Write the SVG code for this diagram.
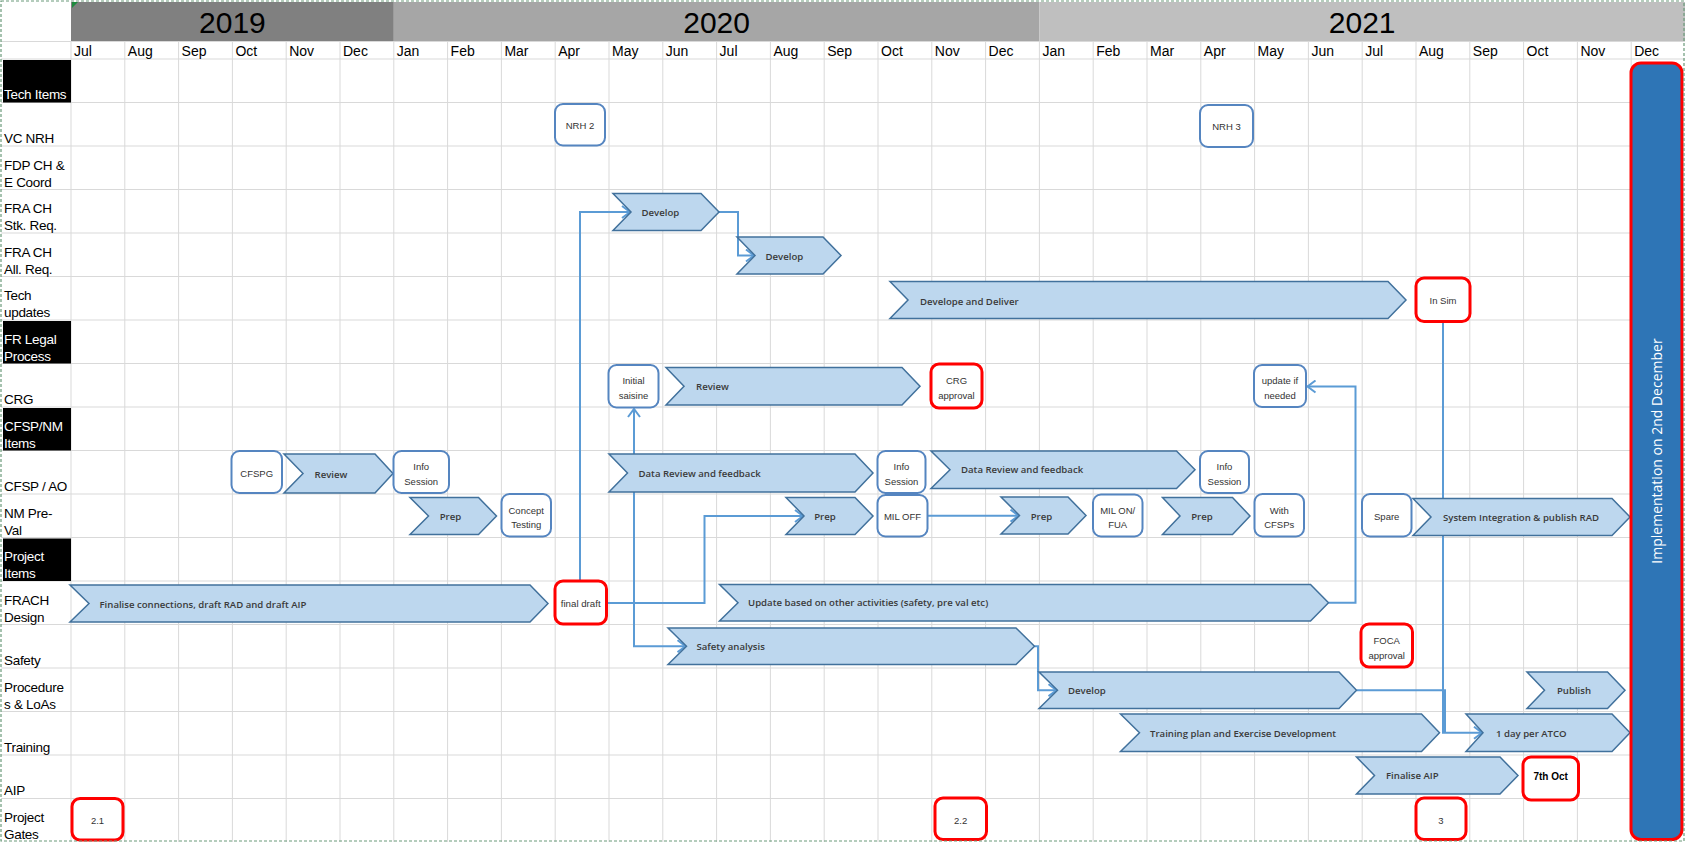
<svg xmlns="http://www.w3.org/2000/svg" width="1686" height="842" viewBox="0 0 1686 842">
<style>
.grid{stroke:#d9d9d9;stroke-width:1;fill:none}
.lbl{font-family:"Liberation Sans",Arial,sans-serif;font-size:13.5px;letter-spacing:-0.3px;fill:#000}
.lblw{font-family:"Liberation Sans",Arial,sans-serif;font-size:13.5px;letter-spacing:-0.3px;fill:#fff}
.mon{font-family:"Liberation Sans",Arial,sans-serif;font-size:14px;fill:#000}
.yr{font-family:"Liberation Sans",Arial,sans-serif;font-size:30px;fill:#000;text-anchor:middle}
.chev{fill:#bdd7ee;stroke:#41719c;stroke-width:1.5;stroke-linejoin:miter}
.ct{font-family:"Open Sans","Liberation Sans",sans-serif;font-size:9.6px;font-weight:600;fill:#3a3a3a}
.box{fill:#fff;stroke:#5585c0;stroke-width:2}
.rbox{fill:#fff;stroke:#ff0000;stroke-width:3}
.bt{font-family:"Liberation Sans",Arial,sans-serif;font-size:9.5px;fill:#333;text-anchor:middle}
.conn{fill:none;stroke:#5b9bd5;stroke-width:2}
</style>
<defs>
<marker id="arr" markerUnits="userSpaceOnUse" markerWidth="12" markerHeight="14" refX="9" refY="7" orient="auto">
<path d="M1,1 L9,7 L1,13" fill="none" stroke="#5b9bd5" stroke-width="2"/>
</marker>
</defs>
<rect x="0" y="0" width="1686" height="842" fill="#fff"/>
<g id="header">
<rect x="71" y="2" width="322.8" height="39" fill="#808080"/>
<rect x="393.8" y="2" width="645.6" height="39" fill="#a6a6a6"/>
<rect x="1039.4" y="2" width="645.6" height="39" fill="#bfbfbf"/>
<text class="yr" x="232.4" y="33">2019</text>
<text class="yr" x="716.6" y="33">2020</text>
<text class="yr" x="1362.2" y="33">2021</text>
<polygon points="72,2 78,2 72,8" fill="#1e8a3e"/>
</g>
<g id="grid">
<path class="grid" d="M71,41V842M124.8,41V842M178.6,41V842M232.4,41V842M286.2,41V842M340,41V842M393.8,41V842M447.6,41V842M501.4,41V842M555.2,41V842M609,41V842M662.8,41V842M716.6,41V842M770.4,41V842M824.2,41V842M878,41V842M931.8,41V842M985.6,41V842M1039.4,41V842M1093.2,41V842M1147,41V842M1200.8,41V842M1254.6,41V842M1308.4,41V842M1362.2,41V842M1416,41V842M1469.8,41V842M1523.6,41V842M1577.4,41V842M1631.2,41V842"/>
<path class="grid" d="M1,41.5H1685M1,59H1685M1,102.5H1685M1,146H1685M1,189.5H1685M1,233H1685M1,276.5H1685M1,320H1685M1,363.5H1685M1,407H1685M1,450.5H1685M1,494H1685M1,537.5H1685M1,581H1685M1,624.5H1685M1,668H1685M1,711.5H1685M1,755H1685M1,798.5H1685"/>
</g>
<g id="months">
<text class="mon" x="74" y="56">Jul</text><text class="mon" x="127.8" y="56">Aug</text><text class="mon" x="181.6" y="56">Sep</text><text class="mon" x="235.4" y="56">Oct</text><text class="mon" x="289.2" y="56">Nov</text><text class="mon" x="343" y="56">Dec</text>
<text class="mon" x="396.8" y="56">Jan</text><text class="mon" x="450.6" y="56">Feb</text><text class="mon" x="504.4" y="56">Mar</text><text class="mon" x="558.2" y="56">Apr</text><text class="mon" x="612" y="56">May</text><text class="mon" x="665.8" y="56">Jun</text>
<text class="mon" x="719.6" y="56">Jul</text><text class="mon" x="773.4" y="56">Aug</text><text class="mon" x="827.2" y="56">Sep</text><text class="mon" x="881" y="56">Oct</text><text class="mon" x="934.8" y="56">Nov</text><text class="mon" x="988.6" y="56">Dec</text>
<text class="mon" x="1042.4" y="56">Jan</text><text class="mon" x="1096.2" y="56">Feb</text><text class="mon" x="1150" y="56">Mar</text><text class="mon" x="1203.8" y="56">Apr</text><text class="mon" x="1257.6" y="56">May</text><text class="mon" x="1311.4" y="56">Jun</text>
<text class="mon" x="1365.2" y="56">Jul</text><text class="mon" x="1419" y="56">Aug</text><text class="mon" x="1472.8" y="56">Sep</text><text class="mon" x="1526.6" y="56">Oct</text><text class="mon" x="1580.4" y="56">Nov</text><text class="mon" x="1634.2" y="56">Dec</text>
</g>
<g id="row-labels">
<rect x="3" y="60" width="68" height="42.5" fill="#000"/>
<rect x="3" y="321" width="68" height="42.5" fill="#000"/>
<rect x="3" y="408" width="68" height="42.5" fill="#000"/>
<rect x="3" y="538.5" width="68" height="42.5" fill="#000"/>
<text class="lblw" x="4" y="99">Tech Items</text>
<text class="lbl" x="4" y="142.5">VC NRH</text>
<text class="lbl" x="4" y="169.5">FDP CH &amp;</text><text class="lbl" x="4" y="186.5">E Coord</text>
<text class="lbl" x="4" y="213">FRA CH</text><text class="lbl" x="4" y="230">Stk. Req.</text>
<text class="lbl" x="4" y="256.5">FRA CH</text><text class="lbl" x="4" y="273.5">All. Req.</text>
<text class="lbl" x="4" y="300">Tech</text><text class="lbl" x="4" y="317">updates</text>
<text class="lblw" x="4" y="343.5">FR Legal</text><text class="lblw" x="4" y="360.5">Process</text>
<text class="lbl" x="4" y="403.5">CRG</text>
<text class="lblw" x="4" y="430.5">CFSP/NM</text><text class="lblw" x="4" y="447.5">Items</text>
<text class="lbl" x="4" y="490.5">CFSP / AO</text>
<text class="lbl" x="4" y="517.5">NM Pre-</text><text class="lbl" x="4" y="534.5">Val</text>
<text class="lblw" x="4" y="561">Project</text><text class="lblw" x="4" y="578">Items</text>
<text class="lbl" x="4" y="604.5">FRACH</text><text class="lbl" x="4" y="621.5">Design</text>
<text class="lbl" x="4" y="664.5">Safety</text>
<text class="lbl" x="4" y="691.5">Procedure</text><text class="lbl" x="4" y="708.5">s &amp; LoAs</text>
<text class="lbl" x="4" y="751.5">Training</text>
<text class="lbl" x="4" y="795">AIP</text>
<text class="lbl" x="4" y="822">Project</text><text class="lbl" x="4" y="839">Gates</text>
</g>
<g id="connectors">
<path class="conn" d="M580,581V212H630" marker-end="url(#arr)"/>
<path class="conn" d="M719,212H738V255.5H754" marker-end="url(#arr)"/>
<path class="conn" d="M606.5,603H634V409" marker-end="url(#arr)"/>
<path class="conn" d="M634,603V646.2H685.5" marker-end="url(#arr)"/>
<path class="conn" d="M606.5,603H704.5V516H803" marker-end="url(#arr)"/>
<path class="conn" d="M927.5,515.7H1018.5" marker-end="url(#arr)"/>
<path class="conn" d="M1328.5,602.7H1355.5V386.5H1307.5" marker-end="url(#arr)"/>
<path class="conn" d="M1034.5,646.2H1038V690.2H1056.5" marker-end="url(#arr)"/>
<path class="conn" d="M1443,321.5V732.7H1482" marker-end="url(#arr)"/>
<path class="conn" d="M1356.5,690.2H1445V732.7"/>
</g>
<g id="n-develop1"><polygon class="chev" points="613,193.5 701,193.5 719,212 701,230.5 613,230.5 631,212"/><text class="ct" x="641.5" y="215.5">Develop</text></g>
<g id="n-develop2"><polygon class="chev" points="737,237 823,237 841,255.5 823,274 737,274 755,255.5"/><text class="ct" x="765.5" y="259.5">Develop</text></g>
<g id="n-develop-deliver"><polygon class="chev" points="890,281.5 1388,281.5 1406,300 1388,318.5 890,318.5 908,300"/><text class="ct" x="920" y="304.5">Develope and Deliver</text></g>
<g id="n-review-crg"><polygon class="chev" points="666,367.5 902,367.5 920,386.2 902,405 666,405 684,386.2"/><text class="ct" x="696" y="390">Review</text></g>
<g id="n-review-cfsp"><polygon class="chev" points="284,454 375,454 393,473.5 375,493 284,493 303,473.5"/><text class="ct" x="331" y="478" text-anchor="middle">Review</text></g>
<g id="n-data-review1"><polygon class="chev" points="609,454 855,454 873,473 855,492 609,492 627.5,473"/><text class="ct" x="638.5" y="477">Data Review and feedback</text></g>
<g id="n-data-review2"><polygon class="chev" points="931,451 1176.5,451 1195,469.7 1176.5,488.5 931,488.5 950,469.7"/><text class="ct" x="961" y="473">Data Review and feedback</text></g>
<g id="n-prep1"><polygon class="chev" points="410,497.5 478.5,497.5 496.5,516 478.5,534.5 410,534.5 428.5,516"/><text class="ct" x="450.5" y="520" text-anchor="middle">Prep</text></g>
<g id="n-prep2"><polygon class="chev" points="786,497.5 855,497.5 873,516 855,534.5 786,534.5 804,516"/><text class="ct" x="825" y="520" text-anchor="middle">Prep</text></g>
<g id="n-prep3"><polygon class="chev" points="1001,497 1068,497 1086,515.5 1068,534 1001,534 1019.5,515.5"/><text class="ct" x="1041.5" y="519.5" text-anchor="middle">Prep</text></g>
<g id="n-prep4"><polygon class="chev" points="1162.5,497.5 1232.5,497.5 1250,516 1232.5,534.5 1162.5,534.5 1180,516"/><text class="ct" x="1202" y="520" text-anchor="middle">Prep</text></g>
<g id="n-sysint"><polygon class="chev" points="1413,498.5 1612,498.5 1630,517 1612,535.5 1413,535.5 1431,517"/><text class="ct" x="1521" y="521" text-anchor="middle">System Integration &amp; publish RAD</text></g>
<g id="n-finalise-conn"><polygon class="chev" points="70,585 530,585 548,603.5 530,622 70,622 89,603.5"/><text class="ct" x="99.5" y="607.5">Finalise connections, draft RAD and draft AIP</text></g>
<g id="n-update"><polygon class="chev" points="719.5,584.5 1310.5,584.5 1328.5,602.7 1310.5,621 719.5,621 738,602.7"/><text class="ct" x="748" y="606">Update based on other activities (safety, pre val etc)</text></g>
<g id="n-safety"><polygon class="chev" points="668,628 1016,628 1034.5,646.2 1016,664.5 668,664.5 686.5,646.2"/><text class="ct" x="696.5" y="649.5">Safety analysis</text></g>
<g id="n-develop-proc"><polygon class="chev" points="1039,672 1339,672 1356.5,690.2 1339,708.5 1039,708.5 1057.5,690.2"/><text class="ct" x="1068" y="694">Develop</text></g>
<g id="n-publish"><polygon class="chev" points="1527,672 1607.5,672 1625,690.2 1607.5,708.5 1527,708.5 1544.5,690.2"/><text class="ct" x="1574" y="694" text-anchor="middle">Publish</text></g>
<g id="n-training"><polygon class="chev" points="1120.5,714 1421.5,714 1439.5,732.7 1421.5,751.5 1120.5,751.5 1139.5,732.7"/><text class="ct" x="1150" y="736.5">Training plan and Exercise Development</text></g>
<g id="n-atco"><polygon class="chev" points="1466,714 1612,714 1630,732.7 1612,751.5 1466,751.5 1483,732.7"/><text class="ct" x="1496" y="736.5">1 day per ATCO</text></g>
<g id="n-finalise-aip"><polygon class="chev" points="1356.5,757 1500,757 1518,775.5 1500,794 1356.5,794 1374.5,775.5"/><text class="ct" x="1386" y="779">Finalise AIP</text></g>
<g id="n-nrh2"><rect class="box" x="555" y="104" width="50" height="41.5" rx="8"/><text class="bt" x="580" y="129">NRH 2</text></g>
<g id="n-nrh3"><rect class="box" x="1200" y="105" width="53" height="42" rx="8"/><text class="bt" x="1226.5" y="130">NRH 3</text></g>
<g id="n-initial"><rect class="box" x="608.5" y="365" width="50" height="42.5" rx="8"/><text class="bt" x="633.5" y="383.5">Initial</text><text class="bt" x="633.5" y="398.5">saisine</text></g>
<g id="n-update-if"><rect class="box" x="1254" y="365" width="52" height="42" rx="8"/><text class="bt" x="1280" y="383.5">update if</text><text class="bt" x="1280" y="398.5">needed</text></g>
<g id="n-cfspg"><rect class="box" x="231.5" y="451" width="50.5" height="42" rx="8"/><text class="bt" x="256.7" y="476.5">CFSPG</text></g>
<g id="n-info1"><rect class="box" x="393.5" y="451" width="55.5" height="42" rx="8"/><text class="bt" x="421.2" y="470">Info</text><text class="bt" x="421.2" y="484.5">Session</text></g>
<g id="n-info2"><rect class="box" x="877.5" y="451" width="48" height="42" rx="8"/><text class="bt" x="901.5" y="470">Info</text><text class="bt" x="901.5" y="484.5">Session</text></g>
<g id="n-info3"><rect class="box" x="1200" y="451" width="49" height="42" rx="8"/><text class="bt" x="1224.5" y="470">Info</text><text class="bt" x="1224.5" y="484.5">Session</text></g>
<g id="n-concept"><rect class="box" x="501.5" y="494" width="49.5" height="42.5" rx="8"/><text class="bt" x="526.2" y="513.5">Concept</text><text class="bt" x="526.2" y="528">Testing</text></g>
<g id="n-miloff"><rect class="box" x="877.5" y="495" width="50" height="41.5" rx="8"/><text class="bt" x="902.5" y="520">MIL OFF</text></g>
<g id="n-milon"><rect class="box" x="1093" y="494.5" width="49.5" height="42" rx="8"/><text class="bt" x="1117.7" y="513.5">MIL ON/</text><text class="bt" x="1117.7" y="528">FUA</text></g>
<g id="n-with"><rect class="box" x="1254.5" y="494" width="49.5" height="42.5" rx="8"/><text class="bt" x="1279.2" y="513.5">With</text><text class="bt" x="1279.2" y="528">CFSPs</text></g>
<g id="n-spare"><rect class="box" x="1362" y="494" width="49.5" height="42.5" rx="8"/><text class="bt" x="1386.7" y="520">Spare</text></g>
<g id="n-insim"><rect class="rbox" x="1416" y="278" width="54" height="43.5" rx="8"/><text class="bt" x="1443" y="303.5">In Sim</text></g>
<g id="n-crg-approval"><rect class="rbox" x="931" y="364" width="51" height="44" rx="8"/><text class="bt" x="956.5" y="383.5">CRG</text><text class="bt" x="956.5" y="398.5">approval</text></g>
<g id="n-final-draft"><rect class="rbox" x="555" y="581" width="51.5" height="43" rx="8"/><text class="bt" x="580.7" y="607" style="font-size:9.7px">final draft</text></g>
<g id="n-foca"><rect class="rbox" x="1361" y="624" width="51.5" height="43" rx="8"/><text class="bt" x="1386.7" y="643.5">FOCA</text><text class="bt" x="1386.7" y="658.5">approval</text></g>
<g id="n-7oct"><rect class="rbox" x="1523" y="757" width="55.5" height="43" rx="8"/><text x="1550.7" y="780" text-anchor="middle" font-family="'Liberation Sans',Arial,sans-serif" font-size="10px" font-weight="bold" fill="#000">7th Oct</text></g>
<g id="n-gate21"><rect class="rbox" x="72" y="798.5" width="51" height="41.5" rx="8"/><text class="bt" x="97.5" y="824">2.1</text></g>
<g id="n-gate22"><rect class="rbox" x="935" y="798" width="51.5" height="41.5" rx="8"/><text class="bt" x="960.7" y="824">2.2</text></g>
<g id="n-gate3"><rect class="rbox" x="1416" y="798" width="50" height="41.5" rx="8"/><text class="bt" x="1441" y="824">3</text></g>
<g id="n-implementation"><rect x="1631" y="63" width="51" height="776.5" rx="10" fill="#2e75b6" stroke="#ff0000" stroke-width="3"/><text x="1661.5" y="451" transform="rotate(-90 1661.5 451)" text-anchor="middle" font-family="'Open Sans',sans-serif" font-size="14px" fill="#fff">Implementation on 2nd December</text></g>
<rect x="1" y="1" width="1683" height="840" fill="none" stroke="#6a9a7a" stroke-width="1.2" stroke-dasharray="3 2"/>
</svg>
